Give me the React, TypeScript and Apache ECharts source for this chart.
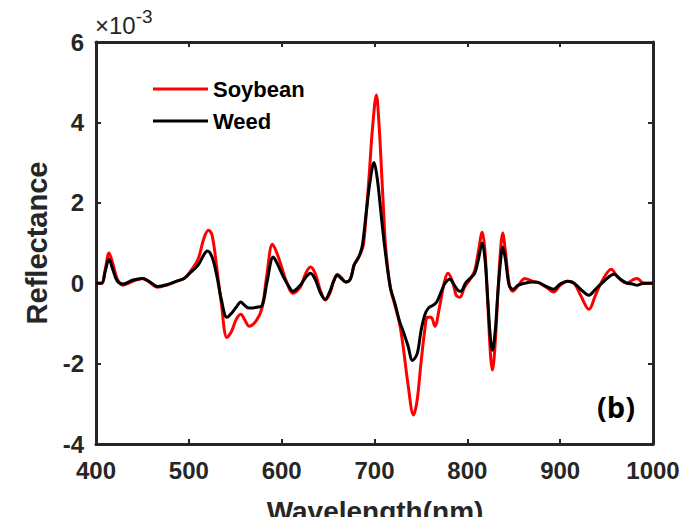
import React, { useEffect, useRef } from "react";
import * as echarts from "echarts";

// Reflectance values are in units of 1e-3 (see the ×10^-3 exponent label).
const soybeanNm = [
  400, 406, 410, 414, 418, 423, 429, 440, 450, 458, 466, 476, 487, 495, 501, 510, 516, 521, 525, 530,
  535, 541, 546, 551, 556, 560, 565, 573, 579, 584, 590, 594, 600, 605, 612, 620, 626, 631, 636, 642,
  647, 652, 656, 660, 664, 669, 674, 678, 681, 685, 688, 691, 694, 698, 702, 705, 708, 710, 712, 717,
  722, 727, 731, 736, 742, 746, 750, 754, 757, 761, 765, 770, 775, 779, 784, 788, 792, 797, 803, 808,
  812, 816, 819, 822, 825, 827, 830, 833, 836, 838, 841, 845, 849, 855, 862, 870, 876, 885, 893, 900,
  908, 915, 922, 931, 938, 945, 955, 962, 972, 978, 983, 990, 1000,
];
const soybeanVal = [
  0, 0, 0.35, 0.75, 0.5, 0.1, -0.05, 0.05, 0.12, 0.02, -0.1, -0.05, 0.05, 0.12, 0.27, 0.6, 1.1, 1.32, 1.2, 0.4,
  -0.5, -1.35, -1.2, -0.9, -0.77, -0.9, -1.07, -0.92, -0.6, 0.2, 0.97, 0.8, 0.4, 0.05, -0.25, -0.1, 0.25, 0.4, 0.25, -0.2,
  -0.42, -0.25, 0.05, 0.22, 0.15, 0.03, 0.1, 0.45, 0.57, 0.75, 0.95, 1.7, 2.6, 3.9, 4.68, 3.9, 2.6, 1.7, 0.9, -0.1,
  -0.55, -1.0, -1.6, -2.5, -3.28, -2.9, -2.0, -1.2, -0.85, -0.85, -1.07, -0.6, 0.0, 0.25, 0.05, -0.3, -0.35, -0.1, 0.1, 0.32,
  0.8, 1.27, 0.8, -0.5, -1.8, -2.16, -1.5, -0.2, 0.9, 1.25, 0.8, 0.0, -0.2, -0.05, 0.12, 0.05, 0.02, -0.1, -0.22, -0.05,
  0.05, 0.0, -0.3, -0.65, -0.3, 0.05, 0.35, 0.15, 0.0, 0.08, 0.12, 0.0, 0,
];

const weedNm = [
  400, 406, 410, 414, 418, 423, 429, 440, 450, 458, 466, 476, 487, 495, 501, 510, 516, 520, 525, 530,
  535, 541, 546, 551, 556, 560, 565, 573, 579, 584, 591, 596, 602, 607, 612, 620, 626, 631, 636, 642,
  647, 652, 656, 660, 664, 669, 674, 678, 681, 684, 687, 691, 695, 699.5, 703, 707, 711, 717, 722, 727,
  731, 736, 741, 746, 750, 754, 758, 763, 767, 772, 776, 781, 786, 790, 793, 798, 803, 808, 812, 816,
  819, 822, 825, 827, 830, 833, 836, 838, 841, 845, 849, 855, 862, 870, 876, 885, 893, 900, 908, 915,
  922, 931, 938, 945, 952, 958, 965, 972, 978, 983, 990, 1000,
];
const weedVal = [
  0, 0, 0.3, 0.6, 0.35, 0.05, -0.02, 0.08, 0.12, 0.03, -0.08, -0.04, 0.05, 0.12, 0.25, 0.45, 0.7, 0.8, 0.65, 0.2,
  -0.4, -0.85, -0.75, -0.6, -0.47, -0.55, -0.62, -0.6, -0.55, 0.0, 0.65, 0.45, 0.15, -0.05, -0.2, -0.05, 0.15, 0.25, 0.1, -0.25,
  -0.4, -0.2, 0.05, 0.2, 0.12, 0.03, 0.1, 0.45, 0.57, 0.7, 0.95, 1.74, 2.5, 3.0, 2.6, 1.74, 0.9, -0.1, -0.5, -0.95,
  -1.2, -1.55, -1.92, -1.75, -1.2, -0.8, -0.62, -0.55, -0.47, -0.2, 0.0, 0.1, -0.05, -0.18, -0.2, 0.0, 0.12, 0.25, 0.6, 1.0,
  0.6, -0.4, -1.4, -1.67, -1.2, -0.2, 0.6, 0.9, 0.6, -0.05, -0.15, -0.05, 0.0, 0.03, 0.02, -0.08, -0.15, -0.02, 0.05, 0.0,
  -0.15, -0.3, -0.15, 0.0, 0.15, 0.22, 0.1, 0.0, -0.02, -0.05, 0.0, 0,
];

const seriesNames = ["Soybean", "Weed"];
const xTicks = { min: 400, max: 1000, interval: 100 };
const yTicks = { min: -4, max: 6, interval: 2 };

const FONT = "'Liberation Sans', Arial, Helvetica, sans-serif";
const AXIS_COLOR = "#262626";

const zip = (xs: number[], ys: number[]) => xs.map((x, i) => [x, ys[i]]);

export default function App() {
  const ref = useRef<HTMLDivElement>(null);

  useEffect(() => {
    if (!ref.current) return;
    const chart = echarts.init(ref.current, undefined, { renderer: "svg" });

    // Box frame: every side is an axis line with inward ticks.
    const axisLine = { show: true, onZero: false, lineStyle: { color: AXIS_COLOR, width: 3 } };
    const axisTick = { show: true, inside: true, length: 5, lineStyle: { color: AXIS_COLOR, width: 2 } };
    const tickLabel = {
      fontFamily: FONT,
      fontWeight: "bold",
      fontSize: 24,
      color: AXIS_COLOR,
      formatter: (v: number) => String(v),
    };

    chart.setOption({
      animation: false,
      backgroundColor: "#ffffff",
      grid: {
        left: 96,
        top: 42,
        right: 46,
        bottom: 81,
        containLabel: false,
        outerBoundsMode: "none",
      },
      legend: {
        orient: "vertical",
        left: 153,
        top: 78,
        padding: 0,
        itemWidth: 55,
        itemHeight: 3,
        itemGap: 10,
        icon: "rect",
        data: seriesNames,
        textStyle: { fontFamily: FONT, fontWeight: "bold", fontSize: 22, color: "#000" },
      },
      xAxis: [
        {
          type: "value",
          ...xTicks,
          position: "bottom",
          axisLine,
          axisTick,
          splitLine: { show: false },
          axisLabel: { ...tickLabel, margin: 14 },
        },
        {
          type: "value",
          ...xTicks,
          position: "top",
          axisLine,
          axisTick,
          splitLine: { show: false },
          axisLabel: { show: false },
        },
      ],
      yAxis: [
        {
          type: "value",
          ...yTicks,
          position: "left",
          axisLine,
          axisTick,
          splitLine: { show: false },
          axisLabel: { ...tickLabel, margin: 12 },
          name: "Reflectance",
          nameLocation: "middle",
          nameGap: 44,
          nameTextStyle: { fontFamily: FONT, fontWeight: "bold", fontSize: 29, color: AXIS_COLOR },
        },
        {
          type: "value",
          ...yTicks,
          position: "right",
          axisLine,
          axisTick,
          splitLine: { show: false },
          axisLabel: { show: false },
        },
      ],
      graphic: [
        {
          // x-axis title, running off the bottom edge of the figure
          type: "text",
          x: 375,
          y: 497,
          style: {
            text: "Wavelength(nm)",
            fontFamily: FONT,
            fontWeight: "bold",
            fontSize: 28,
            fill: AXIS_COLOR,
            align: "center",
            verticalAlign: "top",
          },
        },
        {
          type: "text",
          left: 95,
          top: 7,
          style: {
            text: "{b|×10}{s|-3}",
            rich: {
              b: { fontFamily: FONT, fontSize: 24, fill: AXIS_COLOR, verticalAlign: "bottom", lineHeight: 30 },
              s: { fontFamily: FONT, fontSize: 19, fill: AXIS_COLOR, verticalAlign: "top", lineHeight: 22 },
            },
          },
        },
        {
          type: "text",
          x: 616,
          y: 406,
          style: {
            text: "(b)",
            fontFamily: "'Open Sans', " + FONT,
            fontWeight: "bold",
            fontSize: 29,
            fill: "#000",
            align: "center",
            verticalAlign: "middle",
          },
        },
        {
          // sliver of a neighbouring panel's glyph at the left edge
          type: "arc",
          shape: { cx: -4, cy: 465, r: 7, startAngle: -Math.PI / 3, endAngle: Math.PI / 3 },
          style: { stroke: AXIS_COLOR, lineWidth: 2.5, fill: "none" },
        },
      ],
      series: [
        {
          name: seriesNames[0],
          type: "line",
          data: zip(soybeanNm, soybeanVal),
          symbol: "none",
          smooth: 0.35,
          lineStyle: { color: "#ff0000", width: 3 },
          itemStyle: { color: "#ff0000" },
        },
        {
          name: seriesNames[1],
          type: "line",
          data: zip(weedNm, weedVal),
          symbol: "none",
          smooth: 0.35,
          lineStyle: { color: "#000000", width: 3 },
          itemStyle: { color: "#000000" },
        },
      ],
    });

    return () => chart.dispose();
  }, []);

  return <div ref={ref} style={{ width: 699, height: 525, margin: -8 }} />;
}
